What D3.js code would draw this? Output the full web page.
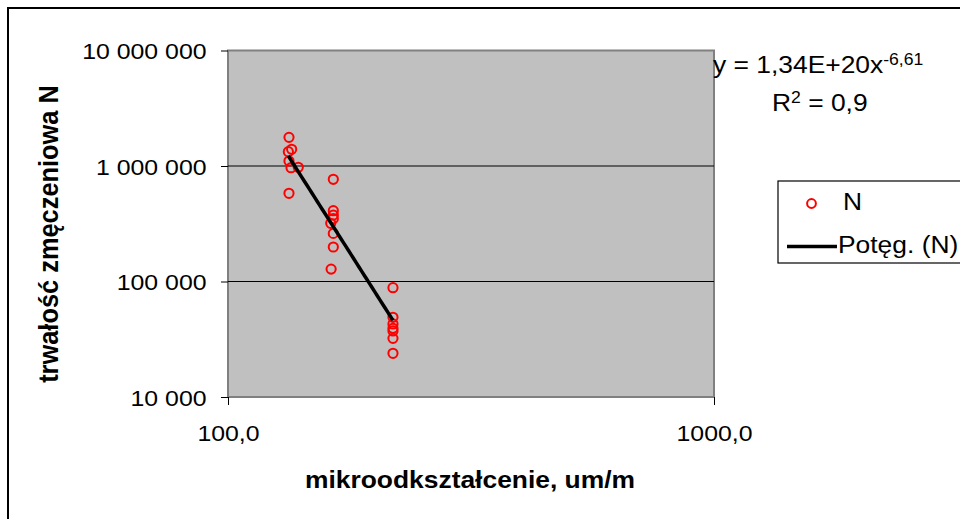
<!DOCTYPE html>
<html>
<head>
<meta charset="utf-8">
<script src="https://cdn.jsdelivr.net/npm/d3@7"></script>
<style>
  html, body { margin: 0; padding: 0; background: #fff; }
  svg { display: block; font-family: "Liberation Sans", Arial, sans-serif; }
</style>
</head>
<body>
<svg id="chart" width="960" height="519"></svg>
<script>
// Microstrain (um/m) for each fatigue specimen
const strain = [
  133.5, 135.2, 133.1, 133.5, 134.8, 139.5, 133.5,
  164.7, 164.7, 164.7, 164.7, 162.7, 164.7, 164.7, 163.0,
  218.5, 218.5, 218.5, 218.5, 218.5, 218.5, 218.5
];
// Fatigue life (cycles to failure) for the same specimens
const cycles = [
  1770000, 1395000, 1330000, 1105000, 967000, 974000, 580000,
  767000, 410000, 376000, 350000, 319000, 261000, 199000, 128000,
  88400, 49000, 42900, 39300, 37300, 32200, 23900
];
// Power-law trendline y = a * x^b
const trendA = 1.34e20;
const trendB = -6.61;
const trendR2 = "0,9";

const yTicks = [1e4, 1e5, 1e6, 1e7];
const yTickLabels = ["10 000", "100 000", "1 000 000", "10 000 000"];
const xTicks = [100, 1000];
const xTickLabels = ["100,0", "1000,0"];

const svg = d3.select("#chart");
const SX = 1.1; // horizontal text stretch

const plot = { left: 228, right: 714, top: 50.5, bottom: 397 };

const x = d3.scaleLog().domain([100, 1000]).range([plot.left, plot.right]);
const y = d3.scaleLog().domain([1e4, 1e7]).range([plot.bottom, plot.top]);

// stretched text helper
function label(parent, px, py, txt, opts = {}) {
  const g = parent.append("g")
    .attr("transform", `translate(${px},${py}) scale(${SX},1)` + (opts.rotate ? ` rotate(${opts.rotate})` : ""));
  const t = g.append("text")
    .attr("text-anchor", opts.anchor || "start")
    .attr("font-size", opts.size || 22)
    .attr("font-weight", opts.weight || "normal")
    .attr("fill", "#000")
    .text(txt);
  return t;
}

// Chart frame
svg.append("rect")
  .attr("x", 8).attr("y", 8).attr("width", 1000).attr("height", 600)
  .attr("fill", "#fff").attr("stroke", "#000").attr("stroke-width", 2);

// Plot area
svg.append("rect")
  .attr("x", plot.left).attr("y", plot.top)
  .attr("width", plot.right - plot.left).attr("height", plot.bottom - plot.top)
  .attr("fill", "#c0c0c0").attr("stroke", "#808080").attr("stroke-width", 2);

// Horizontal gridlines
svg.append("g").selectAll("line")
  .data(yTicks.filter(d => d > 1e4 && d < 1e7))
  .join("line")
  .attr("x1", plot.left).attr("x2", plot.right)
  .attr("y1", d => y(d)).attr("y2", d => y(d))
  .attr("stroke", "#000").attr("stroke-width", 1);

// Y axis
const yAxis = d3.axisLeft(y)
  .tickValues(yTicks)
  .tickSize(7)
  .tickPadding(0)
  .tickFormat(d => yTickLabels[yTicks.indexOf(d)]);
const gy = svg.append("g").attr("transform", `translate(${plot.left},0)`).call(yAxis);
gy.select(".domain").remove();
gy.selectAll(".tick line").attr("stroke", "#000");
gy.selectAll(".tick text")
  .attr("x", -19.5)
  .attr("dy", "0.36em")
  .attr("font-size", 22.6)
  .attr("font-family", "Liberation Sans, Arial, sans-serif")
  .attr("fill", "#000")
  .attr("transform", `scale(${SX},1)`);

// X axis
const xAxis = d3.axisBottom(x)
  .tickValues(xTicks)
  .tickSize(8)
  .tickFormat(d => xTickLabels[xTicks.indexOf(d)]);
const gx = svg.append("g").attr("transform", `translate(0,${plot.bottom})`).call(xAxis);
gx.select(".domain").remove();
gx.selectAll(".tick line").attr("stroke", "#000");
gx.selectAll(".tick text")
  .attr("y", 44).attr("dy", 0)
  .attr("font-size", 22.6)
  .attr("font-family", "Liberation Sans, Arial, sans-serif")
  .attr("fill", "#000")
  .attr("transform", `scale(${SX},1)`);

// Data markers
svg.append("g").selectAll("circle")
  .data(strain.map((s, i) => [s, cycles[i]]))
  .join("circle")
  .attr("cx", d => x(d[0]))
  .attr("cy", d => y(d[1]))
  .attr("r", 4.6)
  .attr("fill", "none")
  .attr("stroke", "#ff0000")
  .attr("stroke-width", 2);

// Power trendline across the data range
const xMin = d3.min(strain), xMax = d3.max(strain);
const trendX = d3.range(0, 41).map(i => xMin * Math.pow(xMax / xMin, i / 40));
svg.append("path")
  .datum(trendX)
  .attr("fill", "none")
  .attr("stroke", "#000")
  .attr("stroke-width", 3.5)
  .attr("d", d3.line().x(d => x(d)).y(d => y(trendA * Math.pow(d, trendB))));

// Trendline equation
const eq = label(svg, 713, 73, "", { size: 24 });
eq.append("tspan").text("y = 1,34E+20x");
eq.append("tspan").attr("font-size", 16).attr("dy", -8).text(String(trendB).replace(".", ","));

const r2 = label(svg, 772, 111, "", { size: 24 });
r2.append("tspan").text("R");
r2.append("tspan").attr("font-size", 16).attr("dy", -8).text("2");
r2.append("tspan").attr("dy", 8).text(" = " + trendR2);

// Axis titles
label(svg, 470, 488, "mikroodkształcenie, um/m", { size: 24, weight: "bold", anchor: "middle" });
label(svg, 58, 234, "trwałość zmęczeniowa N", { size: 25.4, weight: "bold", anchor: "middle", rotate: -90 });

// Legend
const lg = svg.append("g");
lg.append("rect")
  .attr("x", 778).attr("y", 181).attr("width", 400).attr("height", 82)
  .attr("fill", "#fff").attr("stroke", "#000").attr("stroke-width", 1.2);
lg.append("circle")
  .attr("cx", 811.5).attr("cy", 203.5).attr("r", 4.4)
  .attr("fill", "none").attr("stroke", "#ff0000").attr("stroke-width", 2);
label(lg, 843, 210, "N", { size: 24 });
lg.append("line")
  .attr("x1", 787).attr("x2", 837).attr("y1", 246.5).attr("y2", 246.5)
  .attr("stroke", "#000").attr("stroke-width", 3.5);
label(lg, 838, 253, "Potęg. (N)", { size: 24 });
</script>
</body>
</html>
